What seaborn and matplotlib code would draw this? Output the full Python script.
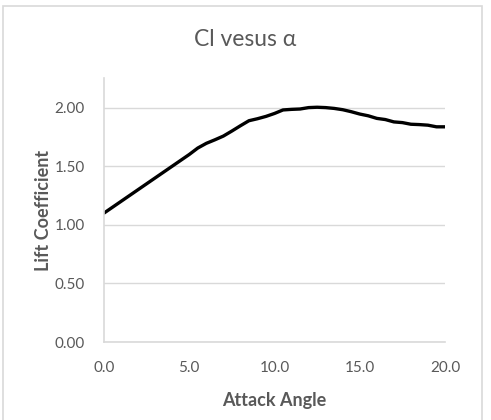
import seaborn as sns
import matplotlib.pyplot as plt
from matplotlib.patches import Rectangle
import pandas as pd

# attack angle (deg) and lift coefficient
alpha = [0.0, 0.5, 1.0, 1.5, 2.0, 2.5, 3.0, 3.5, 4.0, 4.5,
         5.0, 5.5, 6.0, 6.5, 7.0, 7.5, 8.0, 8.5, 9.0, 9.5,
         10.0, 10.5, 11.0, 11.5, 12.0, 12.5, 13.0, 13.5, 14.0, 14.5,
         15.0, 15.5, 16.0, 16.5, 17.0, 17.5, 18.0, 18.5, 19.0, 19.5, 20.0]
cl = [1.100, 1.150, 1.200, 1.250, 1.300, 1.350, 1.400, 1.450, 1.500, 1.550,
      1.600, 1.655, 1.695, 1.725, 1.757, 1.800, 1.845, 1.888, 1.905, 1.925,
      1.950, 1.980, 1.985, 1.988, 2.000, 2.003, 2.000, 1.993, 1.982, 1.965,
      1.945, 1.930, 1.908, 1.898, 1.878, 1.872, 1.858, 1.855, 1.850, 1.836, 1.836]
x_ticks = [0, 5, 10, 15, 20]
y_ticks = [0.0, 0.5, 1.0, 1.5, 2.0]

df = pd.DataFrame({'Attack Angle': alpha, 'Lift Coefficient': cl})

sns.set_style('white')
plt.rcParams['font.family'] = ['Lato', 'DejaVu Sans']

grey = '#595959'
light = '#d9d9d9'

fig = plt.figure(figsize=(4.91, 4.20), dpi=100)
ax = fig.add_axes([104 / 491, 1 - 342 / 420, 341 / 491, (342 - 78.3) / 420])

sns.lineplot(data=df, x='Attack Angle', y='Lift Coefficient', ax=ax,
             color='black', linewidth=2.4)

ax.set_xlim(0, 20)
ax.set_ylim(0, 2.25)
ax.set_xticks(x_ticks)
ax.set_xticklabels([f'{v:.1f}' for v in x_ticks])
ax.set_yticks(y_ticks)
ax.set_yticklabels([f'{v:.2f}' for v in y_ticks])
ax.yaxis.grid(True, color=light, linewidth=1)
ax.set_axisbelow(True)
ax.tick_params(axis='both', length=0, labelsize=11, labelcolor=grey)
ax.tick_params(axis='x', pad=14)
ax.tick_params(axis='y', pad=14)

for s in ['top', 'right']:
    ax.spines[s].set_visible(False)
for s in ['left', 'bottom']:
    ax.spines[s].set_color(light)
    ax.spines[s].set_linewidth(1.2)

ax.set_xlabel('Attack Angle', fontsize=13, fontweight='bold', color=grey, labelpad=12)
ax.set_ylabel('Lift Coefficient', fontsize=13, fontweight='bold', color=grey, labelpad=2)
fig.text(0.5, 1 - 40 / 420, 'Cl vesus α', ha='center', va='center',
         fontsize=16.5, color=grey)

fig.patches.append(Rectangle((3 / 491, -0.02), 479 / 491, 1.02 - 6 / 420,
                             transform=fig.transFigure, fill=False,
                             edgecolor=light, linewidth=1.2))

fig.savefig('out.png', dpi=100)
